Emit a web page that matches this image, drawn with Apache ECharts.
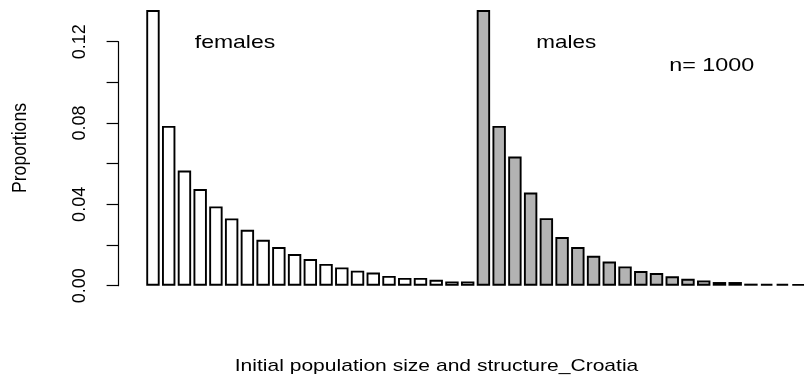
<!DOCTYPE html>
<html>
<head>
<meta charset="utf-8">
<script src="https://cdn.jsdelivr.net/npm/echarts@6/dist/echarts.min.js"></script>
<style>html,body{margin:0;padding:0;background:#fff}#c{width:806px;height:380px}</style>
</head>
<body>
<div id="c"></div>
<script>
// Data
const femaleValues = [0.1356, 0.0786, 0.0566, 0.0475, 0.0390, 0.0331, 0.0275, 0.0226, 0.0190, 0.0156, 0.0131,
  0.0107, 0.0090, 0.0074, 0.0065, 0.0048, 0.0038, 0.0038, 0.0029, 0.0021, 0.0021];
const maleValues = [0.1356, 0.0786, 0.0635, 0.0458, 0.0332, 0.0239, 0.0190, 0.0147, 0.0119, 0.0095, 0.0072,
  0.0062, 0.0046, 0.0034, 0.0026, 0.0018, 0.0018, 0.0010, 0.0009, 0.0009, 0.0008];
const yTicks = [0, 0.02, 0.04, 0.06, 0.08, 0.10, 0.12];
const yLabelTicks = ['0.00', '0.04', '0.08', '0.12'];
const groupLabels = ['females', 'males'];
const sampleLabel = 'n= 1000';
const xTitle = 'Initial population size and structure_Croatia';
const yTitle = 'Proportions';

const nF = femaleValues.length, nM = maleValues.length;
const categories = [];
for (let i = 0; i < nF; i++) categories.push('F' + (i + 1));
for (let i = 0; i < nM; i++) categories.push('M' + (i + 1));
const fData = femaleValues.concat(new Array(nM).fill(null));
const mData = new Array(nF).fill(null).concat(maleValues);

const FONT = '"Liberation Sans", Arial, sans-serif';
const chart = echarts.init(document.getElementById('c'), null, {renderer: 'canvas'});
const gridLeft = 145.1, band = 15.8;
chart.setOption({
  animation: false,
  backgroundColor: '#ffffff',
  grid: {left: gridLeft, top: 41.7, width: band * (nF + nM), height: 244, containLabel: false},
  xAxis: {
    type: 'category', data: categories, boundaryGap: true,
    axisLine: {show: false}, axisTick: {show: false}, axisLabel: {show: false}, splitLine: {show: false}
  },
  yAxis: {
    type: 'value', min: yTicks[0], max: yTicks[yTicks.length - 1], interval: 0.02,
    offset: gridLeft - 118.3,
    axisLine: {show: true, lineStyle: {color: '#000', width: 1.2}},
    axisTick: {show: true, length: 11.7, lineStyle: {color: '#000', width: 1.2}},
    splitLine: {show: false},
    axisLabel: {
      rotate: 90, margin: 29, fontSize: 18, color: '#000', fontFamily: FONT,
      formatter: function (v) {
        const s = v.toFixed(2);
        return yLabelTicks.indexOf(s) >= 0 ? s : '';
      }
    }
  },
  series: [
    {
      name: groupLabels[0], type: 'bar', stack: 'all', data: fData, barWidth: 13.4, clip: false,
      itemStyle: {color: '#ffffff', borderColor: '#000', borderWidth: 1.9}
    },
    {
      name: groupLabels[1], type: 'bar', stack: 'all', data: mData, barWidth: 13.4, clip: false,
      itemStyle: {color: '#b3b3b3', borderColor: '#000', borderWidth: 1.9}
    }
  ],
  graphic: [
    {type: 'text', x: 235, y: 43.5, scaleX: 1.3, style: {text: groupLabels[0], font: '17.7px ' + FONT, fill: '#000', align: 'center', verticalAlign: 'middle'}},
    {type: 'text', x: 566.3, y: 43.5, scaleX: 1.27, style: {text: groupLabels[1], font: '17.7px ' + FONT, fill: '#000', align: 'center', verticalAlign: 'middle'}},
    {type: 'text', x: 711.7, y: 66, scaleX: 1.32, style: {text: sampleLabel, font: '17.7px ' + FONT, fill: '#000', align: 'center', verticalAlign: 'middle'}},
    {type: 'text', x: 436.5, y: 366.8, scaleX: 1.3, style: {text: xTitle, font: '16.2px ' + FONT, fill: '#000', align: 'center', verticalAlign: 'middle'}},
    {type: 'text', x: 20.3, y: 148, rotation: Math.PI / 2, scaleY: 1.1, style: {text: yTitle, font: '17.6px ' + FONT, fill: '#000', align: 'center', verticalAlign: 'middle'}}
  ]
});
</script>
</body>
</html>
